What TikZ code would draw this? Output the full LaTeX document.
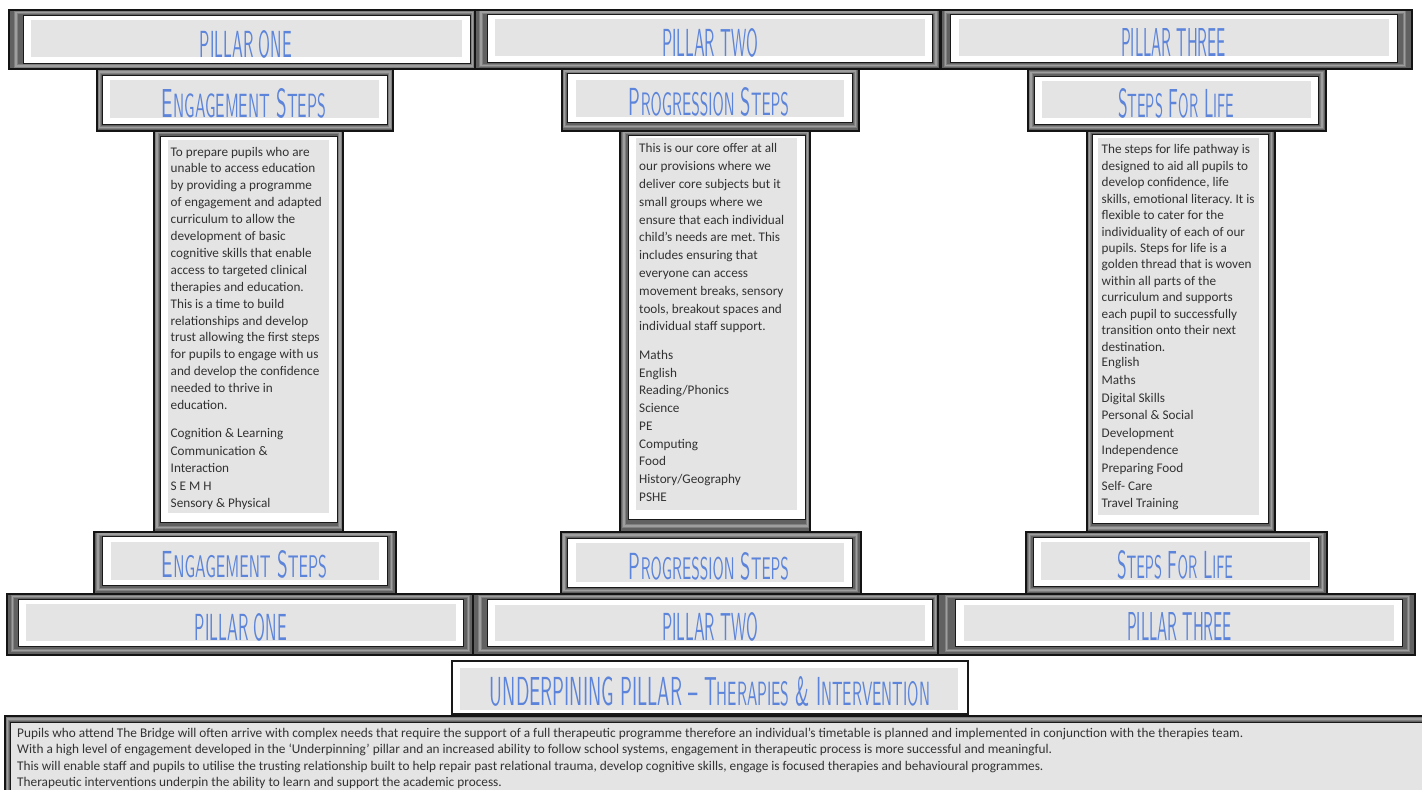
\documentclass[tikz,border=0pt]{standalone}
\usepackage{fontspec}
\setmainfont{Carlito}
\newcommand\titlefont{\sffamily}
\usepackage{graphicx}
\frenchspacing
\definecolor{titleblue}{RGB}{92,132,218}
\definecolor{panelgrey}{RGB}{228,228,228}
\definecolor{txt}{RGB}{50,50,50}
\newcommand\ttext[3]{\resizebox{#1pt}{#2pt}{\titlefont #3}}
\newcommand\smc[1]{\scalebox{0.83}{#1}}
\tikzset{
  frmfill/.style={fill=black!62},
  bandA/.style={draw=black!50, line width=3.4pt},
  bandB/.style={draw=black!38, line width=1.6pt},
  frmline/.style={draw=black!92, line width=1.1pt},
  win/.style={fill=white, draw=black!90, line width=0.9pt},
  pan/.style={fill=panelgrey},
  ttl/.style={inner sep=0pt, anchor=base, text=titleblue},
  body/.style={inner sep=0pt, anchor=base west, text=txt},
  btxt/.style={inner sep=0pt, anchor=base west, text=txt, font=\fontsize{13.3}{13.3}\selectfont},
}
% outer frame x1 y1 x2 y2, white window x1 y1 x2 y2
\newcommand\pillarframe[8]{%
  \fill[frmfill] (#1,#2) rectangle (#3,#4);
  \draw[bandA] ({(#1+#5)/2},{(#2+#6)/2}) rectangle ({(#3+#7)/2},{(#4+#8)/2});
  \draw[bandB] ({(#1+#5)/2},{(#2+#6)/2}) rectangle ({(#3+#7)/2},{(#4+#8)/2});
  \draw[frmline] (#1,#2) rectangle (#3,#4);
  \draw[win] (#5,#6) rectangle (#7,#8);
}
\begin{document}
\begin{tikzpicture}[x=1pt,y=-1pt]
\useasboundingbox (0,0) rectangle (1422,790);
\fill[white] (0,0) rectangle (1422,790);

% ---------- content boxes (drawn first, under the caps) ----------
\pillarframe{154}{129}{343}{533}{160}{136}{337}{522}
\fill[pan] (168,140) rectangle (329,513);

\pillarframe{620}{129}{810}{533}{628}{135}{805}{519}
\fill[pan] (636,138) rectangle (797,510);

\pillarframe{1087}{129}{1275}{533}{1092}{134}{1268}{523}
\fill[pan] (1098,138) rectangle (1259,515);

% ---------- top pillar caps ----------
\pillarframe{9}{10}{475}{69}{23}{15}{470}{63}
\fill[pan] (31,20) rectangle (462,57);
\node[ttl] (p1top) at (246,57) {\ttext{92}{27}{PILLAR ONE}};

\pillarframe{475}{10}{940}{69}{487}{14}{932}{62}
\fill[pan] (495,19) rectangle (925,56);
\node[ttl] (p2top) at (710,56) {\ttext{96}{28}{PILLAR TWO}};

\pillarframe{941}{10}{1412}{69}{950}{14}{1397}{62}
\fill[pan] (959,19) rectangle (1389,56);
\node[ttl] (p3top) at (1173.5,56) {\ttext{105}{28}{PILLAR THREE}};

% ---------- top step boxes ----------
\pillarframe{97}{69}{393}{131}{102}{75}{387}{124}
\fill[pan] (110,80) rectangle (379,118);
\node[ttl] (s1top) at (244,117) {\ttext{164}{29}{E\smc{NGAGEMENT} S\smc{TEPS}}};

\pillarframe{562}{69}{859}{131}{567}{73}{852}{122}
\fill[pan] (576,80) rectangle (844,117);
\node[ttl] (s2top) at (709,115) {\ttext{160}{28}{P\smc{ROGRESSION} S\smc{TEPS}}};

\pillarframe{1028}{69}{1326}{131}{1034}{76}{1318}{124}
\fill[pan] (1042,81) rectangle (1311,118);
\node[ttl] (s3top) at (1176,117) {\ttext{116}{29}{S\smc{TEPS} F\smc{OR} L\smc{IFE}}};

% ---------- column texts ----------
\node[body, font=\fontsize{13.2}{16.9}\selectfont] (c1a) at (170.5,156) {\begin{tabular}[t]{@{}l@{}}
To prepare pupils who are\\
unable to access education\\
by providing a programme\\
of engagement and adapted\\
curriculum to allow the\\
development of basic\\
cognitive skills that enable\\
access to targeted clinical\\
therapies and education.\\
This is a time to build\\
relationships and develop\\
trust allowing the first steps\\
for pupils to engage with us\\
and develop the confidence\\
needed to thrive in\\
education.
\end{tabular}};
\node[body, font=\fontsize{13.2}{17.5}\selectfont] (c1b) at (170.5,437.8) {\begin{tabular}[t]{@{}l@{}}
Cognition \& Learning\\
Communication \&\\
Interaction\\
S E M H\\
Sensory \& Physical
\end{tabular}};

\node[body, font=\fontsize{13.2}{17.8}\selectfont] (c2a) at (639,152.8) {\begin{tabular}[t]{@{}l@{}}
This is our core offer at all\\
our provisions where we\\
deliver core subjects but it\\
small groups where we\\
ensure that each individual\\
child’s needs are met. This\\
includes ensuring that\\
everyone can access\\
movement breaks, sensory\\
tools, breakout spaces and\\
individual staff support.
\end{tabular}};
\node[body, font=\fontsize{13.2}{17.7}\selectfont] (c2b) at (639,359.5) {\begin{tabular}[t]{@{}l@{}}
Maths\\
English\\
Reading/Phonics\\
Science\\
PE\\
Computing\\
Food\\
History/Geography\\
PSHE
\end{tabular}};

\node[body, font=\fontsize{13.2}{16.45}\selectfont] (c3a) at (1101.5,153.8) {\begin{tabular}[t]{@{}l@{}}
The steps for life pathway is\\
designed to aid all pupils to\\
develop confidence, life\\
skills, emotional literacy. It is\\
flexible to cater for the\\
individuality of each of our\\
pupils. Steps for life is a\\
golden thread that is woven\\
within all parts of the\\
curriculum and supports\\
each pupil to successfully\\
transition onto their next\\
destination.
\end{tabular}};
\node[body, font=\fontsize{13.2}{17.6}\selectfont] (c3b) at (1101.5,366.8) {\begin{tabular}[t]{@{}l@{}}
English\\
Maths\\
Digital Skills\\
Personal \& Social\\
Development\\
Independence\\
Preparing Food\\
Self- Care\\
Travel Training
\end{tabular}};

% ---------- bottom step boxes ----------
\pillarframe{94}{532}{396}{594}{102}{536}{387}{585}
\fill[pan] (111,542) rectangle (379,580);
\node[ttl] (s1bot) at (244.5,577) {\ttext{165}{27}{E\smc{NGAGEMENT} S\smc{TEPS}}};

\pillarframe{561}{532}{861}{594}{567}{538}{852}{587}
\fill[pan] (576,543) rectangle (844,582);
\node[ttl] (s2bot) at (709,579) {\ttext{160}{27}{P\smc{ROGRESSION} S\smc{TEPS}}};

\pillarframe{1026}{532}{1327}{594}{1033}{537}{1318}{586}
\fill[pan] (1041,542) rectangle (1310,580);
\node[ttl] (s3bot) at (1175,578) {\ttext{116}{28}{S\smc{TEPS} F\smc{OR} L\smc{IFE}}};

% ---------- bottom pillar bases ----------
\pillarframe{7}{594}{474}{655}{18}{599}{463}{646}
\fill[pan] (26,604) rectangle (456,641);
\node[ttl] (p1bot) at (241,640) {\ttext{92}{27}{PILLAR ONE}};

\pillarframe{473}{594}{939}{655}{487}{599}{932}{646}
\fill[pan] (495,605) rectangle (925,641);
\node[ttl] (p2bot) at (710,640) {\ttext{96}{28}{PILLAR TWO}};

\pillarframe{938}{594}{1415}{655}{955}{599}{1402}{646}
\fill[pan] (964,605) rectangle (1394,641);
\node[ttl] (p3bot) at (1179.5,640) {\ttext{105}{28}{PILLAR THREE}};

% ---------- underpinning pillar ----------
\draw[fill=white, draw=black!90, line width=1.3pt] (452,661) rectangle (968,714);
\fill[pan] (460,668) rectangle (958,710);
\node[ttl] (under) at (710,705) {\ttext{440}{29}{UNDERPINING PILLAR – T\smc{HERAPIES} \& I\smc{NTERVENTION}}};

% ---------- bottom description ----------
\pillarframe{5}{716}{1430}{800}{10}{722}{1430}{800}
\fill[pan] (10.5,722.5) rectangle (1424,792);
\node[btxt] (d1) at (17,737) {Pupils who attend The Bridge will often arrive with complex needs that require the support of a full therapeutic programme therefore an individual’s timetable is planned and implemented in conjunction with the therapies team.};
\node[btxt] (d2) at (17,753.5) {With a high level of engagement developed in the ‘Underpinning’ pillar and an increased ability to follow school systems, engagement in therapeutic process is more successful and meaningful.};
\node[btxt] (d3) at (17,770) {This will enable staff and pupils to utilise the trusting relationship built to help repair past relational trauma, develop cognitive skills, engage is focused therapies and behavioural programmes.};
\node[btxt] (d4) at (17,786.5) {Therapeutic interventions underpin the ability to learn and support the academic process.};
\end{tikzpicture}
\end{document}
